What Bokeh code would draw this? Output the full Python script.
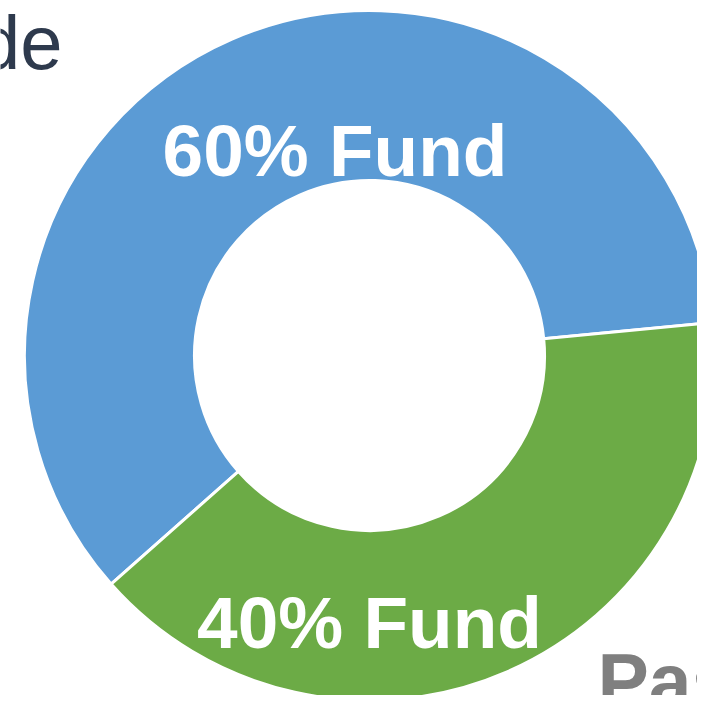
import math
from bokeh.plotting import figure
from bokeh.models import Range1d, ColumnDataSource
from bokeh.core.properties import value
from bokeh.embed import file_html
from bokeh.resources import INLINE

# data
categories = ["60% Fund", "40% Fund"]
shares = [60, 40]
colors = ["#5b9bd5", "#6cab46"]
start_deg = 5.5

# geometry (pixel-like units, donut centre at origin)
R_OUT, R_IN = 345, 175
cx_px, cy_px = 369, 355

W, H = 697, 695
p = figure(width=W, height=H, output_backend="svg", toolbar_location=None,
           x_range=Range1d(0 - cx_px, W - cx_px),
           y_range=Range1d(cy_px - H, cy_px - 0),
           min_border=0, outline_line_color=None)
p.axis.visible = False
p.grid.visible = False
p.background_fill_color = "white"
p.border_fill_color = "white"

total = sum(shares)
starts, ends = [], []
a = math.radians(start_deg)
for s in shares:
    starts.append(a)
    a += 2 * math.pi * s / total
    ends.append(a)

src = ColumnDataSource(dict(start=starts, end=ends, color=colors, label=categories))
p.annular_wedge(x=0, y=0, inner_radius=R_IN, outer_radius=R_OUT,
                start_angle="start", end_angle="end", color="color",
                line_color="white", line_width=3, source=src)

# labels inside the ring
lab_x = [334.5 - cx_px, 369 - cx_px]
lab_y = [cy_px - 150, cy_px - 622]
p.text(x=lab_x, y=lab_y, text=categories, text_color="white",
       text_font=value("Liberation Sans"), text_font_style="bold",
       text_font_size="73px", text_align="center", text_baseline="alphabetic")

# cropped surrounding texts
p.text(x=[62 - cx_px], y=[cy_px - 42], text=["de"], text_color="#2e3a4d",
       text_font=value("Liberation Sans"), text_font_size="76px",
       text_align="right", text_baseline="alphabetic")
p.text(x=[597 - cx_px], y=[cy_px - 680], text=["Pas"], text_color="#7f7f7f",
       text_font=value("Liberation Sans"), text_font_style="bold",
       text_font_size="77px", text_align="left", text_baseline="alphabetic")

open("out.html", "w").write(file_html(p, INLINE))
